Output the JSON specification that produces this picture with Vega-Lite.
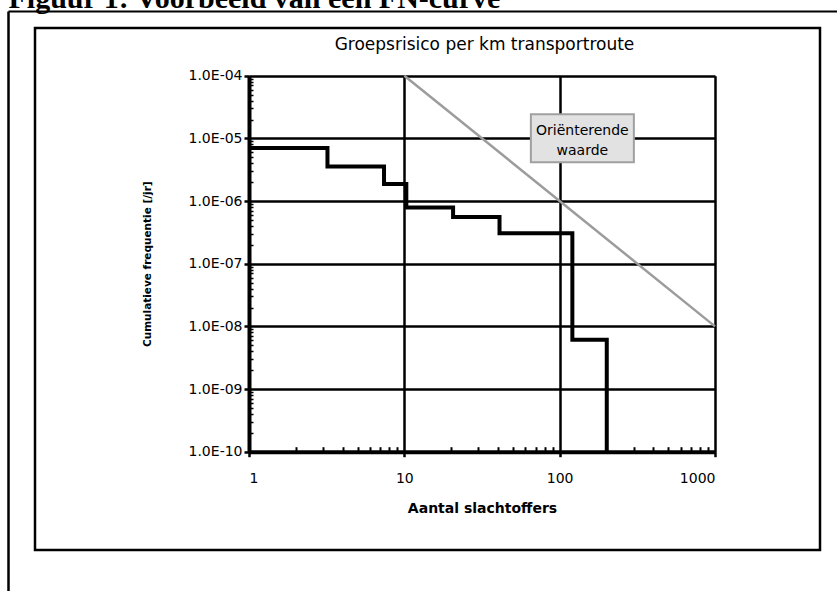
{
  "$schema": "https://vega.github.io/schema/vega-lite/v6.json",
  "width": 785,
  "height": 522,
  "autosize": {"type": "none"},
  "padding": {"left": 35, "top": 28, "right": 17, "bottom": 41},
  "background": "white",
  "config": {
    "view": {"stroke": "black", "strokeWidth": 2.5},
    "font": "DejaVu Sans"
  },
  "datasets": {
    "steps": [
      {"N": 1, "F": 7.0e-6},
      {"N": 3.2, "F": 3.55e-6},
      {"N": 7.4, "F": 1.87e-6},
      {"N": 10.3, "F": 7.85e-7},
      {"N": 20.6, "F": 5.56e-7},
      {"N": 41, "F": 3.05e-7},
      {"N": 120.7, "F": 6.1e-9},
      {"N": 201, "F": 1e-10}
    ],
    "guide": [
      {"N": 10, "F": 1e-4},
      {"N": 1000, "F": 1e-8}
    ],
    "label": [
      {"N": 140, "F": 1e-5, "text": "Oriënterende\nwaarde"}
    ]
  },
  "resolve": {"axis": {"x": "independent", "y": "independent"}},
  "layer": [
    {
      "data": {"name": "steps"},
      "mark": {"type": "line", "interpolate": "step-after", "color": "black", "strokeWidth": 4},
      "encoding": {
        "x": {
          "field": "N", "type": "quantitative",
          "scale": {"type": "log", "domain": [1, 1000], "range": [214, 680], "nice": false},
          "axis": {
            "orient": "bottom", "offset": -98.3,
            "values": [1, 10, 100, 1000], "format": "d",
            "domain": true, "domainColor": "black", "domainWidth": 4,
            "ticks": true, "tickColor": "black", "tickSize": 5, "tickWidth": 2.5,
            "grid": false,
            "labelFont": "DejaVu Sans", "labelFontSize": 14, "labelColor": "black", "labelPadding": 15,
            "title": "Aantal slachtoffers",
            "titleFont": "DejaVu Sans", "titleFontSize": 14, "titleFontWeight": "bold", "titleColor": "black",
            "titleBaseline": "alphabetic", "titleY": 61
          }
        },
        "y": {
          "field": "F", "type": "quantitative",
          "scale": {"type": "log", "domain": [1e-10, 1e-4], "range": [423.7, 47.7], "nice": false},
          "axis": {
            "orient": "left", "offset": -214,
            "values": [1e-10, 1e-9, 1e-8, 1e-7, 1e-6, 1e-5, 1e-4],
            "labelExpr": "'1.0E-' + (abs(round(log(datum.value)/LN10)) < 10 ? '0' : '') + abs(round(log(datum.value)/LN10))",
            "domain": true, "domainColor": "black", "domainWidth": 4,
            "ticks": true, "tickColor": "black", "tickSize": 5, "tickWidth": 2.5,
            "grid": true, "gridColor": "black", "gridWidth": 2.5, "gridOpacity": 1,
            "labelFont": "DejaVu Sans", "labelFontSize": 14, "labelColor": "black", "labelPadding": 2,
            "title": "Cumulatieve frequentie [/jr]",
            "titleFont": "DejaVu Sans", "titleFontSize": 10.5, "titleFontWeight": "bold", "titleColor": "black",
            "titleBaseline": "alphabetic", "titleX": -99
          }
        }
      }
    },
    {
      "data": {"name": "guide"},
      "mark": {"type": "line", "color": "#9c9c9c", "strokeWidth": 2.5},
      "encoding": {
        "x": {
          "field": "N", "type": "quantitative",
          "scale": {"type": "log", "domain": [1, 1000], "range": [214, 680], "nice": false},
          "axis": {
            "orient": "bottom", "offset": -98.3,
            "values": [2, 3, 4, 5, 6, 7, 8, 9, 20, 30, 40, 50, 60, 70, 80, 90, 200, 300, 400, 500, 600, 700, 800, 900],
            "domain": false, "labels": false, "grid": false,
            "ticks": true, "tickColor": "black", "tickSize": -5, "tickWidth": 2,
            "title": null
          }
        },
        "y": {
          "field": "F", "type": "quantitative",
          "scale": {"type": "log", "domain": [1e-10, 1e-4], "range": [423.7, 47.7], "nice": false},
          "axis": {
            "orient": "left", "offset": -214,
            "values": [2e-10, 3e-10, 4e-10, 5e-10, 6e-10, 7e-10, 8e-10, 9e-10, 2e-9, 3e-9, 4e-9, 5e-9, 6e-9, 7e-9, 8e-9, 9e-9, 2e-8, 3e-8, 4e-8, 5e-8, 6e-8, 7e-8, 8e-8, 9e-8, 2e-7, 3e-7, 4e-7, 5e-7, 6e-7, 7e-7, 8e-7, 9e-7, 2e-6, 3e-6, 4e-6, 5e-6, 6e-6, 7e-6, 8e-6, 9e-6, 2e-5, 3e-5, 4e-5, 5e-5, 6e-5, 7e-5, 8e-5, 9e-5],
            "domain": false, "labels": false, "grid": false,
            "ticks": true, "tickColor": "black", "tickSize": -4, "tickWidth": 1.5,
            "title": null
          }
        }
      }
    },
    {
      "data": {"name": "label"},
      "mark": {"type": "point", "shape": "M-1,-0.466H1V0.466H-1Z", "size": 10609, "filled": true, "fill": "#e2e2e2", "stroke": "#a0a0a0", "strokeWidth": 2, "opacity": 1},
      "encoding": {
        "x": {
          "field": "N", "type": "quantitative",
          "scale": {"type": "log", "domain": [1, 1000], "range": [214, 680], "nice": false},
          "axis": {
            "orient": "top", "offset": 17,
            "values": [1], "tickOffset": -241,
            "domain": false, "labels": false, "grid": false,
            "ticks": true, "tickColor": "black", "tickSize": -700, "tickWidth": 2.5,
            "title": "Figuur 1: Voorbeeld van een FN-curve",
            "titleFont": "Liberation Serif", "titleFontSize": 30, "titleFontWeight": "bold", "titleColor": "black",
            "titleAlign": "left", "titleBaseline": "alphabetic", "titleAngle": 0,
            "titleX": -27, "titleY": -3.7
          }
        },
        "y": {
          "field": "F", "type": "quantitative",
          "scale": {"type": "log", "domain": [1e-10, 1e-4], "range": [423.7, 47.7], "nice": false},
          "axis": {
            "orient": "left", "offset": 27,
            "values": [1e-4], "tickOffset": -64.7,
            "domain": false, "labels": false, "grid": false,
            "ticks": true, "tickColor": "black", "tickSize": -900, "tickWidth": 2,
            "title": "Groepsrisico per km transportroute",
            "titleFont": "DejaVu Sans", "titleFontSize": 17, "titleFontWeight": "normal", "titleColor": "black",
            "titleAlign": "center", "titleBaseline": "alphabetic", "titleAngle": 0,
            "titleX": 476, "titleY": 21
          }
        }
      }
    },
    {
      "data": {"name": "label"},
      "mark": {"type": "text", "lineBreak": "\n", "font": "DejaVu Sans", "fontSize": 14, "lineHeight": 20, "align": "center", "baseline": "middle", "color": "black", "dy": -7.3},
      "encoding": {
        "x": {
          "field": "N", "type": "quantitative",
          "scale": {"type": "log", "domain": [1, 1000], "range": [214, 680], "nice": false},
          "axis": {
            "orient": "top", "offset": 0,
            "values": [1, 10, 100, 1000],
            "domain": false, "labels": false, "ticks": false,
            "grid": true, "gridColor": "black", "gridWidth": 2.5, "gridOpacity": 1,
            "title": null
          }
        },
        "y": {"field": "F", "type": "quantitative", "scale": {"type": "log", "domain": [1e-10, 1e-4], "range": [423.7, 47.7], "nice": false}, "axis": null},
        "text": {"field": "text"}
      }
    }
  ]
}
